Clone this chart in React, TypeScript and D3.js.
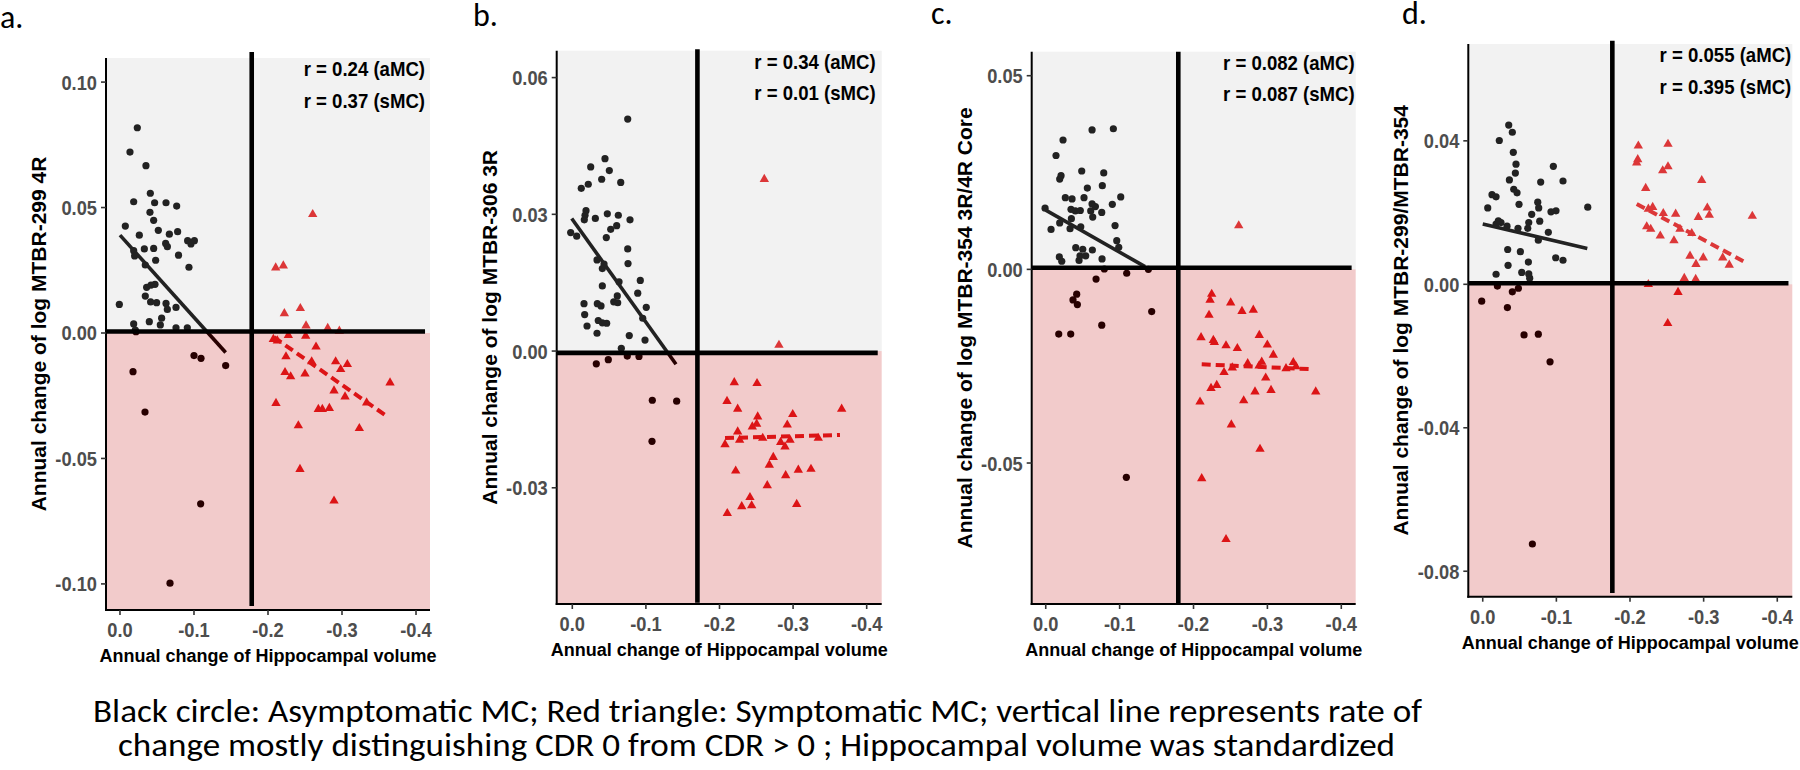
import React from "react";
import * as d3 from "d3";

// ---------- DATA ----------
const panelLabels = ["a.", "b.", "c.", "d."];
const yTitles = [
  "Annual change of log MTBR-299 4R",
  "Annual change of log MTBR-306 3R",
  "Annual change of log MTBR-354 3R/4R Core",
  "Annual change of log MTBR-299/MTBR-354",
];
const xTitle = "Annual change of Hippocampal volume";
const rTexts = [
  ["r = 0.24 (aMC)", "r = 0.37 (sMC)"],
  ["r = 0.34 (aMC)", "r = 0.01 (sMC)"],
  ["r = 0.082 (aMC)", "r = 0.087 (sMC)"],
  ["r = 0.055 (aMC)", "r = 0.395 (sMC)"],
];
const footnote = [
  "Black circle: Asymptomatic MC; Red triangle: Symptomatic MC; vertical line represents rate of",
  "change mostly distinguishing CDR 0 from CDR > 0 ; Hippocampal volume was standardized",
];

const xTicks = [0, -0.1, -0.2, -0.3, -0.4];
const xTickLabels = ["0.0", "-0.1", "-0.2", "-0.3", "-0.4"];

const yTicksA = [0.1, 0.05, 0, -0.05, -0.1];
const yTickLabelsA = ["0.10", "0.05", "0.00", "-0.05", "-0.10"];
const yTicksB = [0.06, 0.03, 0, -0.03];
const yTickLabelsB = ["0.06", "0.03", "0.00", "-0.03"];
const yTicksC = [0.05, 0, -0.05];
const yTickLabelsC = ["0.05", "0.00", "-0.05"];
const yTicksD = [0.04, 0, -0.04, -0.08];
const yTickLabelsD = ["0.04", "0.00", "-0.04", "-0.08"];

const xDomainA = [0.0189, -0.4189];
const yDomainA = [0.1096, -0.1104];
const xDomainB = [0.0212, -0.4204];
const yDomainB = [0.0659, -0.0555];
const xDomainC = [0.019, -0.4195];
const yDomainC = [0.0562, -0.0864];
const xDomainD = [0.0196, -0.4204];
const yDomainD = [0.067, -0.0871];

// reference lines: vertical [x, yStart, yEnd], horizontal [y, xEnd]
const vLineA = [-0.178, 0.112, -0.1088];
const hLineA = [0.0006, -0.4122];
const vLineB = [-0.17, 0.0662, -0.0552];
const hLineB = [-0.0004, -0.415];
const vLineC = [-0.1794, 0.0562, -0.0864];
const hLineC = [0.0004, -0.414];
const vLineD = [-0.176, 0.0679, -0.0861];
const hLineD = [0.0003, -0.4152];

const aMC_A: [number, number][] = [[-0.0234,0.0818],[-0.0135,0.0721],[-0.0351,0.0667],[-0.041,0.0557],[-0.0185,0.0523],[-0.0468,0.0519],[-0.0622,0.0519],[-0.0766,0.0506],[-0.0405,0.0481],[-0.0455,0.0449],[-0.0072,0.0426],[-0.0518,0.0409],[-0.0261,0.039],[-0.0667,0.0394],[-0.0779,0.0404],[-0.0914,0.0368],[-0.1005,0.0368],[-0.0959,0.0355],[-0.0617,0.0357],[-0.064,0.0344],[-0.0329,0.0335],[-0.0455,0.0337],[-0.0185,0.0328],[-0.0198,0.0307],[-0.0791,0.031],[-0.0482,0.029],[-0.0342,0.0271],[-0.0932,0.0262],[-0.036,0.0182],[-0.0419,0.0191],[-0.0473,0.0194],[-0.0342,0.0147],[-0.0414,0.0124],[-0.0495,0.0121],[0.0009,0.0114],[-0.0622,0.0118],[-0.0757,0.0102],[-0.064,0.0094],[-0.0563,0.0059],[-0.0396,0.0045],[-0.0185,0.0036],[-0.0545,0.0032],[-0.0757,0.0021],[-0.091,0.0021],[-0.0207,0.0012],[-0.0216,0.0005],[-0.1,-0.009],[-0.1095,-0.0101],[-0.1428,-0.013],[-0.0176,-0.0154],[-0.0338,-0.0315],[-0.109,-0.0681],[-0.0676,-0.0997]];
const sMC_A: [number, number][] = [[-0.2604,0.0473],[-0.2104,0.026],[-0.2207,0.0268],[-0.2437,0.0098],[-0.2221,0.0078],[-0.2514,0.0029],[-0.2807,0.0019],[-0.2964,0.0008],[-0.2072,-0.0025],[-0.2126,-0.0031],[-0.2275,-0.0009],[-0.2509,-0.0012],[-0.2649,-0.0055],[-0.2243,-0.0094],[-0.259,-0.0114],[-0.2914,-0.0114],[-0.3072,-0.0125],[-0.2982,-0.0145],[-0.223,-0.0157],[-0.2306,-0.0174],[-0.25,-0.0163],[-0.3649,-0.0198],[-0.2892,-0.023],[-0.3041,-0.0254],[-0.2108,-0.028],[-0.268,-0.0304],[-0.2734,-0.0304],[-0.2829,-0.03],[-0.3333,-0.0278],[-0.241,-0.0369],[-0.3234,-0.038],[-0.2432,-0.0543],[-0.2892,-0.0669]];
const fitA_aMC: [number, number][] = [[0, 0.039], [-0.1428, -0.0078]];
const fitA_sMC: [number, number][] = [[-0.208, -0.0017], [-0.3626, -0.0336]];

const aMC_B: [number, number][] = [[-0.0753,0.0509],[-0.0444,0.0422],[-0.025,0.0404],[-0.0503,0.0396],[-0.0399,0.0377],[-0.0658,0.037],[-0.0122,0.0357],[-0.0217,0.0366],[-0.0186,0.0308],[-0.0173,0.0298],[-0.0163,0.0288],[-0.0313,0.0291],[-0.0476,0.0301],[-0.0625,0.0298],[-0.0784,0.0288],[-0.0603,0.0275],[-0.0522,0.0267],[0.0022,0.026],[-0.006,0.0252],[-0.0462,0.0249],[-0.0753,0.0224],[-0.0336,0.02],[-0.0431,0.0191],[-0.0408,0.0181],[-0.0757,0.0192],[-0.0635,0.0152],[-0.0924,0.0155],[-0.0408,0.0143],[-0.0611,0.0121],[-0.0889,0.0127],[-0.0563,0.0108],[-0.0617,0.0106],[-0.0159,0.0104],[-0.034,0.0104],[-0.039,0.0099],[-0.1005,0.0096],[-0.0168,0.008],[-0.0957,0.0072],[-0.0353,0.0067],[-0.0467,0.0061],[-0.0408,0.0062],[-0.02,0.0055],[-0.0336,0.0039],[-0.0774,0.0034],[-0.0988,0.0024],[-0.0666,0.0006],[-0.0326,-0.0028],[-0.0489,-0.0019],[-0.0747,-0.0011],[-0.0906,-0.0012],[-0.1087,-0.0108],[-0.1418,-0.011],[-0.1083,-0.0198]];
const sMC_B: [number, number][] = [[-0.2609,0.0377],[-0.2808,0.0013],[-0.2201,-0.0069],[-0.251,-0.0071],[-0.2102,-0.011],[-0.2247,-0.0127],[-0.366,-0.0127],[-0.2995,-0.0139],[-0.2519,-0.0144],[-0.2505,-0.016],[-0.2446,-0.0166],[-0.2921,-0.0162],[-0.2247,-0.0177],[-0.2274,-0.0195],[-0.2075,-0.0205],[-0.2587,-0.0191],[-0.2831,-0.02],[-0.2958,-0.0195],[-0.289,-0.021],[-0.2731,-0.0233],[-0.2677,-0.025],[-0.222,-0.0263],[-0.3071,-0.0261],[-0.3243,-0.0259],[-0.2899,-0.0273],[-0.2649,-0.0295],[-0.2414,-0.0321],[-0.2302,-0.0341],[-0.2437,-0.0339],[-0.3049,-0.0336],[-0.2106,-0.0356],[-0.3342,-0.0191]];
const fitB_aMC: [number, number][] = [[0.0008, 0.0291], [-0.1409, -0.0029]];
const fitB_sMC: [number, number][] = [[-0.2075, -0.0191], [-0.3637, -0.0184]];

const aMC_C: [number, number][] = [[-0.0627,0.036],[-0.0915,0.0363],[-0.0234,0.0334],[-0.0139,0.0294],[-0.0487,0.0254],[-0.0785,0.0249],[-0.0207,0.0242],[-0.0189,0.0233],[-0.0766,0.0216],[-0.0563,0.021],[-0.0265,0.0185],[-0.0356,0.0182],[-0.0518,0.0185],[-0.1015,0.0187],[-0.0901,0.0168],[-0.0627,0.0169],[-0.0672,0.0162],[0.0009,0.0158],[-0.0342,0.0155],[-0.0468,0.0152],[-0.0401,0.0151],[-0.0609,0.0151],[-0.0758,0.0147],[-0.0636,0.0135],[-0.0347,0.0131],[-0.0189,0.012],[-0.0474,0.011],[-0.0938,0.0113],[-0.0072,0.0103],[-0.0329,0.0105],[-0.0961,0.0074],[-0.0988,0.0057],[-0.0406,0.0056],[-0.0631,0.005],[-0.0501,0.0052],[-0.0541,0.0035],[-0.0464,0.0035],[-0.0184,0.0032],[-0.0217,0.0021],[-0.0762,0.0027],[-0.0451,0.0023],[-0.0793,0.0001],[-0.1389,0.0],[-0.0681,-0.0025],[-0.1096,-0.001],[-0.0419,-0.0064],[-0.0369,-0.0079],[-0.0428,-0.0091],[-0.1434,-0.0109],[-0.0758,-0.0144],[-0.0176,-0.0167],[-0.0338,-0.0167],[-0.1091,-0.0537]];
const sMC_C: [number, number][] = [[-0.2612,0.0113],[-0.2246,-0.0064],[-0.2224,-0.0079],[-0.2503,-0.0086],[-0.2656,-0.0108],[-0.2809,-0.0105],[-0.221,-0.0118],[-0.2102,-0.0176],[-0.2268,-0.0183],[-0.289,-0.017],[-0.2282,-0.0188],[-0.244,-0.0197],[-0.2593,-0.0204],[-0.2999,-0.0195],[-0.308,-0.0221],[-0.2733,-0.0243],[-0.2923,-0.0239],[-0.2887,-0.0249],[-0.2525,-0.0254],[-0.2413,-0.0266],[-0.3351,-0.024],[-0.3252,-0.0256],[-0.3387,-0.0251],[-0.2977,-0.028],[-0.2314,-0.0299],[-0.2237,-0.0307],[-0.3049,-0.0312],[-0.2832,-0.0316],[-0.3654,-0.0316],[-0.2088,-0.0342],[-0.2679,-0.0339],[-0.2512,-0.0401],[-0.29,-0.0464],[-0.2111,-0.054],[-0.244,-0.0697]];
const fitC_aMC: [number, number][] = [[0, 0.0153], [-0.1344, 0.0007]];
const fitC_sMC: [number, number][] = [[-0.2111, -0.0245], [-0.3621, -0.0258]];

const aMC_D: [number, number][] = [[-0.0353,0.0444],[-0.0402,0.0424],[-0.0225,0.0401],[-0.0415,0.0368],[-0.0452,0.0335],[-0.0959,0.0329],[-0.0443,0.031],[-0.0362,0.0291],[-0.0787,0.0285],[-0.109,0.0288],[-0.0421,0.0265],[-0.0466,0.0255],[-0.0126,0.025],[-0.0181,0.0244],[-0.0747,0.0229],[-0.0493,0.0223],[-0.076,0.0213],[-0.1426,0.0215],[-0.0068,0.0213],[-0.0995,0.0205],[-0.0927,0.0202],[-0.0665,0.0195],[-0.0774,0.0176],[-0.0212,0.0177],[-0.0248,0.0172],[-0.0181,0.0168],[-0.033,0.0162],[-0.0625,0.0172],[-0.0611,0.0156],[-0.0479,0.0156],[-0.0891,0.0145],[-0.0755,0.0123],[-0.0339,0.0097],[-0.0511,0.0091],[-0.0991,0.0074],[-0.109,0.0067],[-0.062,0.0062],[-0.0344,0.0053],[-0.053,0.0033],[-0.0181,0.0028],[-0.0625,0.0029],[-0.0638,0.0017],[-0.0199,-0.0005],[-0.0484,-0.0011],[-0.0402,-0.0021],[0.0014,-0.0047],[-0.0335,-0.0065],[-0.0561,-0.0141],[-0.0755,-0.0139],[-0.0914,-0.0216],[-0.0674,-0.0724]];
const sMC_D: [number, number][] = [[-0.2113,0.0386],[-0.2516,0.0391],[-0.2105,0.0348],[-0.2091,0.0339],[-0.2516,0.0328],[-0.2444,0.0317],[-0.2974,0.029],[-0.2213,0.0268],[-0.2249,0.021],[-0.2308,0.0215],[-0.2452,0.0198],[-0.262,0.0196],[-0.305,0.0213],[-0.3077,0.0193],[-0.2928,0.0187],[-0.3661,0.019],[-0.2227,0.0161],[-0.2281,0.0154],[-0.2679,0.0154],[-0.2838,0.0142],[-0.2411,0.0135],[-0.2597,0.0122],[-0.2815,0.0079],[-0.2995,0.0074],[-0.3259,0.0074],[-0.2896,0.0056],[-0.3348,0.0054],[-0.2737,0.0017],[-0.2892,0.0014],[-0.2249,0.0],[-0.2652,-0.0022],[-0.2512,-0.0109]];
const fitD_aMC: [number, number][] = [[0, 0.0168], [-0.142, 0.01]];
const fitD_sMC: [number, number][] = [[-0.2091, 0.0224], [-0.3552, 0.0063]];

// ---------- LAYOUT (pixel boxes of the plot panels) ----------
const layouts = [
  { left: 106, top: 58, right: 430, bottom: 610, rInset: 5, labelX: 0, labelY: 28 },
  { left: 556.7, top: 50.7, right: 881.7, bottom: 604, rInset: 6, labelX: 473, labelY: 26 },
  { left: 1031.7, top: 51.7, right: 1355.7, bottom: 604, rInset: 1, labelX: 931, labelY: 24 },
  { left: 1468.3, top: 44, right: 1792.3, bottom: 596.7, rInset: 1, labelX: 1402, labelY: 24 },
];

const panels = [
  { xDomain: xDomainA, yDomain: yDomainA, yTicks: yTicksA, yTickLabels: yTickLabelsA, vLine: vLineA, hLine: hLineA, aMC: aMC_A, sMC: sMC_A, fitA: fitA_aMC, fitS: fitA_sMC },
  { xDomain: xDomainB, yDomain: yDomainB, yTicks: yTicksB, yTickLabels: yTickLabelsB, vLine: vLineB, hLine: hLineB, aMC: aMC_B, sMC: sMC_B, fitA: fitB_aMC, fitS: fitB_sMC },
  { xDomain: xDomainC, yDomain: yDomainC, yTicks: yTicksC, yTickLabels: yTickLabelsC, vLine: vLineC, hLine: hLineC, aMC: aMC_C, sMC: sMC_C, fitA: fitC_aMC, fitS: fitC_sMC },
  { xDomain: xDomainD, yDomain: yDomainD, yTicks: yTicksD, yTickLabels: yTickLabelsD, vLine: vLineD, hLine: hLineD, aMC: aMC_D, sMC: sMC_D, fitA: fitD_aMC, fitS: fitD_sMC },
];

const FONT = "'Liberation Sans', Arial, Helvetica, sans-serif";
const CAL = "Carlito, Calibri, Lato, 'Open Sans', sans-serif";
const RED = "#e41a1c";
const TICK_GRAY = "#4d4d4d";

const triPath = d3.symbol().type(d3.symbolTriangle).size(38)() as string;

function Panel({ i }: { i: number }) {
  const p = panels[i];
  const L = layouts[i];
  const x = d3.scaleLinear().domain(p.xDomain).range([L.left, L.right]);
  const y = d3.scaleLinear().domain(p.yDomain).range([L.top, L.bottom]);
  const line = d3.line<[number, number]>().x((d) => x(d[0])).y((d) => y(d[1]));
  const y0 = y(0);
  const w = L.right - L.left;
  const cx = (L.left + L.right) / 2;
  const cy = (L.top + L.bottom) / 2;
  return (
    <g>
      {/* panel label */}
      <text x={L.labelX} y={L.labelY} fontFamily={CAL} fontSize={32} fill="#000">
        {panelLabels[i]}
      </text>
      {/* points */}
      {p.aMC.map((d, k) => (
        <circle key={"a" + k} cx={x(d[0])} cy={y(d[1])} r={3.6} fill="#000" />
      ))}
      {p.sMC.map((d, k) => (
        <path key={"s" + k} d={triPath} transform={`translate(${x(d[0])},${y(d[1])})`} fill={RED} />
      ))}
      {/* fit lines */}
      <path d={line(p.fitA) as string} stroke="#000" strokeWidth={3.6} fill="none" />
      <path d={line(p.fitS) as string} stroke={RED} strokeWidth={4} strokeDasharray="9,5" fill="none" />
      {/* translucent backgrounds */}
      <rect x={L.left} y={L.top} width={w} height={y0 - L.top} fill="rgb(185,185,185)" fillOpacity={0.184} />
      <rect x={L.left} y={y0} width={w} height={L.bottom - y0} fill="rgb(191,0,0)" fillOpacity={0.204} />
      {/* reference lines */}
      <line x1={x(p.vLine[0])} x2={x(p.vLine[0])} y1={y(p.vLine[1])} y2={y(p.vLine[2])} stroke="#000" strokeWidth={4.6} />
      <line x1={L.left} x2={x(p.hLine[1])} y1={y(p.hLine[0])} y2={y(p.hLine[0])} stroke="#000" strokeWidth={4.6} />
      {/* axes */}
      <line x1={L.left} x2={L.left} y1={L.top} y2={L.bottom + 1} stroke="#000" strokeWidth={2} />
      <line x1={L.left - 1} x2={L.right} y1={L.bottom} y2={L.bottom} stroke="#000" strokeWidth={2} />
      {p.yTicks.map((t, k) => (
        <g key={"yt" + k}>
          <line x1={L.left - 5} x2={L.left} y1={y(t)} y2={y(t)} stroke="#333" strokeWidth={1.6} />
          <text
            transform={`translate(${L.left - 9},${y(t) + 7.5}) scale(0.87,1)`}
            textAnchor="end"
            fontFamily={FONT}
            fontWeight="bold"
            fontSize={21}
            fill={TICK_GRAY}
          >
            {p.yTickLabels[k]}
          </text>
        </g>
      ))}
      {xTicks.map((t, k) => (
        <g key={"xt" + k}>
          <line x1={x(t)} x2={x(t)} y1={L.bottom} y2={L.bottom + 5} stroke="#333" strokeWidth={1.6} />
          <text
            transform={`translate(${x(t)},${L.bottom + 27}) scale(0.87,1)`}
            textAnchor="middle"
            fontFamily={FONT}
            fontWeight="bold"
            fontSize={21}
            fill={TICK_GRAY}
          >
            {xTickLabels[k]}
          </text>
        </g>
      ))}
      {/* axis titles */}
      <text x={cx} y={L.bottom + 52} textAnchor="middle" fontFamily={FONT} fontWeight="bold" fontSize={18} fill="#000">
        {xTitle}
      </text>
      <text
        transform={`translate(${L.left - 60},${cy}) rotate(-90)`}
        textAnchor="middle"
        fontFamily={FONT}
        fontWeight="bold"
        fontSize={21}
        fill="#000"
      >
        {yTitles[i]}
      </text>
      {/* correlation annotations */}
      {rTexts[i].map((s, k) => (
        <text
          key={"r" + k}
          transform={`translate(${L.right - L.rInset},${L.top + 18 + k * 31.5}) scale(0.93,1)`}
          textAnchor="end"
          fontFamily={FONT}
          fontWeight="bold"
          fontSize={20}
          fill="#000"
        >
          {s}
        </text>
      ))}
    </g>
  );
}

export default function App() {
  return (
    <div style={{ position: "absolute", left: 0, top: 0, width: 1800, height: 770, background: "#fff" }}>
      <svg width={1800} height={770} viewBox="0 0 1800 770" style={{ display: "block" }}>
        <rect x={0} y={0} width={1800} height={770} fill="#fff" />
        {panels.map((_, i) => (
          <Panel key={i} i={i} />
        ))}
        <text x={93} y={722} fontFamily={CAL} fontSize={33} fill="#000" textLength={1329} lengthAdjust="spacingAndGlyphs">
          {footnote[0]}
        </text>
        <text x={118} y={756} fontFamily={CAL} fontSize={33} fill="#000" textLength={1277} lengthAdjust="spacingAndGlyphs">
          {footnote[1]}
        </text>
      </svg>
    </div>
  );
}
